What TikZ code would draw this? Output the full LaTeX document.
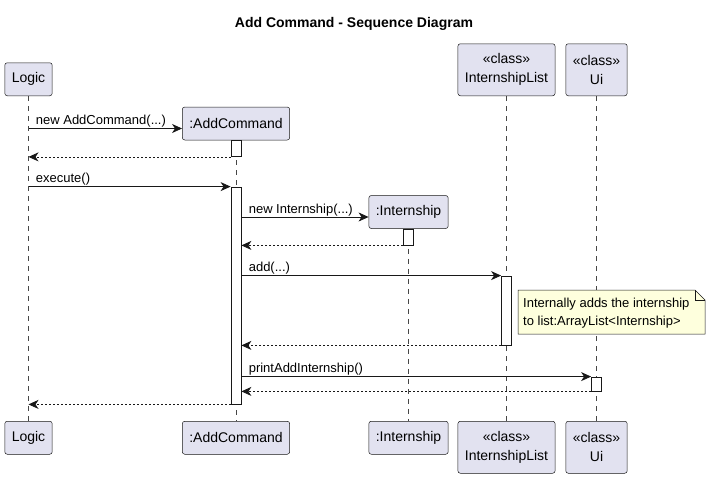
\documentclass[tikz,border=0pt]{standalone}
\usepackage{fontspec}
\setmainfont{Liberation Sans}
\usetikzlibrary{arrows.meta,positioning,backgrounds}
\definecolor{partfill}{HTML}{E2E2F0}
\definecolor{ink}{HTML}{181818}
\definecolor{notefill}{HTML}{FEFFDD}

\begin{document}
\begin{tikzpicture}[x=1pt,y=-1pt,
 part/.style={draw=ink,fill=partfill,rounded corners=2.5pt,line width=0.5pt,align=center,font=\fontsize{14}{19}\selectfont,inner xsep=7pt,inner ysep=0pt,minimum height=33pt},
 cls/.style={part,minimum height=52pt},
 act/.style={draw=ink,fill=white,line width=0.8pt,minimum width=10pt,inner sep=0pt},
 life/.style={draw=ink!80,line width=0.5pt,dash pattern=on 5pt off 5pt},
 msg/.style={-{Stealth[length=10pt,width=9pt,inset=3pt]},draw=ink,line width=0.8pt},
 ret/.style={msg,dash pattern=on 2pt off 2pt},
 lbl/.style={pos=0,anchor=base west,xshift=7pt,yshift=4pt,inner sep=0pt,font=\fontsize{13}{15}\selectfont}]
\useasboundingbox (0,0) rectangle (710,477);
\node[font=\bfseries\fontsize{14}{17}\selectfont] (title) at (354,24) {Add Command - Sequence Diagram};
% participants
\node[part,anchor=south] (logT) at (28.5,96) {Logic};
\node[part] (acT) at (236,123.5) {:AddCommand};
\node[part] (inT) at (408.5,212) {:Internship};
\node[cls,anchor=south] (ilT) at (506.5,96) {«class»\\InternshipList};
\node[cls,anchor=south] (uiT) at (596.5,96) {«class»\\Ui};
\node[part,anchor=north] (logB) at (28.5,421) {Logic};
\node[part,anchor=north] (acB) at (236,421) {:AddCommand};
\node[part,anchor=north] (inB) at (408.5,421) {:Internship};
\node[cls,anchor=north] (ilB) at (506.5,421) {«class»\\InternshipList};
\node[cls,anchor=north] (uiB) at (596.5,421) {«class»\\Ui};
\coordinate (acIn) at ([yshift=-5pt]acT.west);
\coordinate (inIn) at ([yshift=-5pt]inT.west);
% activations
\node[act,minimum height=16pt] (a1) at (236,148.5) {};
\node[act,minimum height=217pt] (a2) at (236,295.5) {};
\node[act,minimum height=16pt] (a3) at (408.5,237) {};
\node[act,minimum height=69pt] (a4) at (506.5,310.5) {};
\node[act,minimum height=14pt] (a5) at (596.5,384) {};
% note
\node[align=left,anchor=west,inner sep=0pt,font=\fontsize{13}{18}\selectfont] (nt) at (523,313.5) {Internally adds the internship\\to list:ArrayList<Internship>};
\begin{scope}[on background layer]
\draw[life] (logT.south) -- (logB.north); \draw[life] (acT.south) -- (acB.north);
\draw[life] (inT.south) -- (inB.north); \draw[life] (ilT.south) -- (ilB.north);
\draw[life] (uiT.south) -- (uiB.north);
\filldraw[draw=ink,fill=notefill,line width=0.5pt] (518,290) -- (695,290) -- (705,300) -- (705,334) -- (518,334) -- cycle;
\draw[draw=ink,line width=0.5pt] (695,290) |- (705,300);
\end{scope}
% messages
\draw[msg] (logT |- acIn) -- node[lbl] {new AddCommand(...)} (acIn);
\draw[ret] (a1.south west) -- (logT |- a1.south west);
\draw[msg] (logT |- a2.north west) -- node[lbl] {execute()} (a2.north west);
\draw[msg] (a2.east |- inIn) -- node[lbl] {new Internship(...)} (inIn);
\draw[ret] (a3.south west) -- (a2.east |- a3.south west);
\draw[msg] (a2.east |- a4.north west) -- node[lbl] {add(...)} (a4.north west);
\draw[ret] (a4.south west) -- (a2.east |- a4.south west);
\draw[msg] (a2.east |- a5.north west) -- node[lbl] {printAddInternship()} (a5.north west);
\draw[ret] (a5.south west) -- (a2.east |- a5.south west);
\draw[ret] (a2.south west) -- (logT |- a2.south west);
\end{tikzpicture}
\end{document}
